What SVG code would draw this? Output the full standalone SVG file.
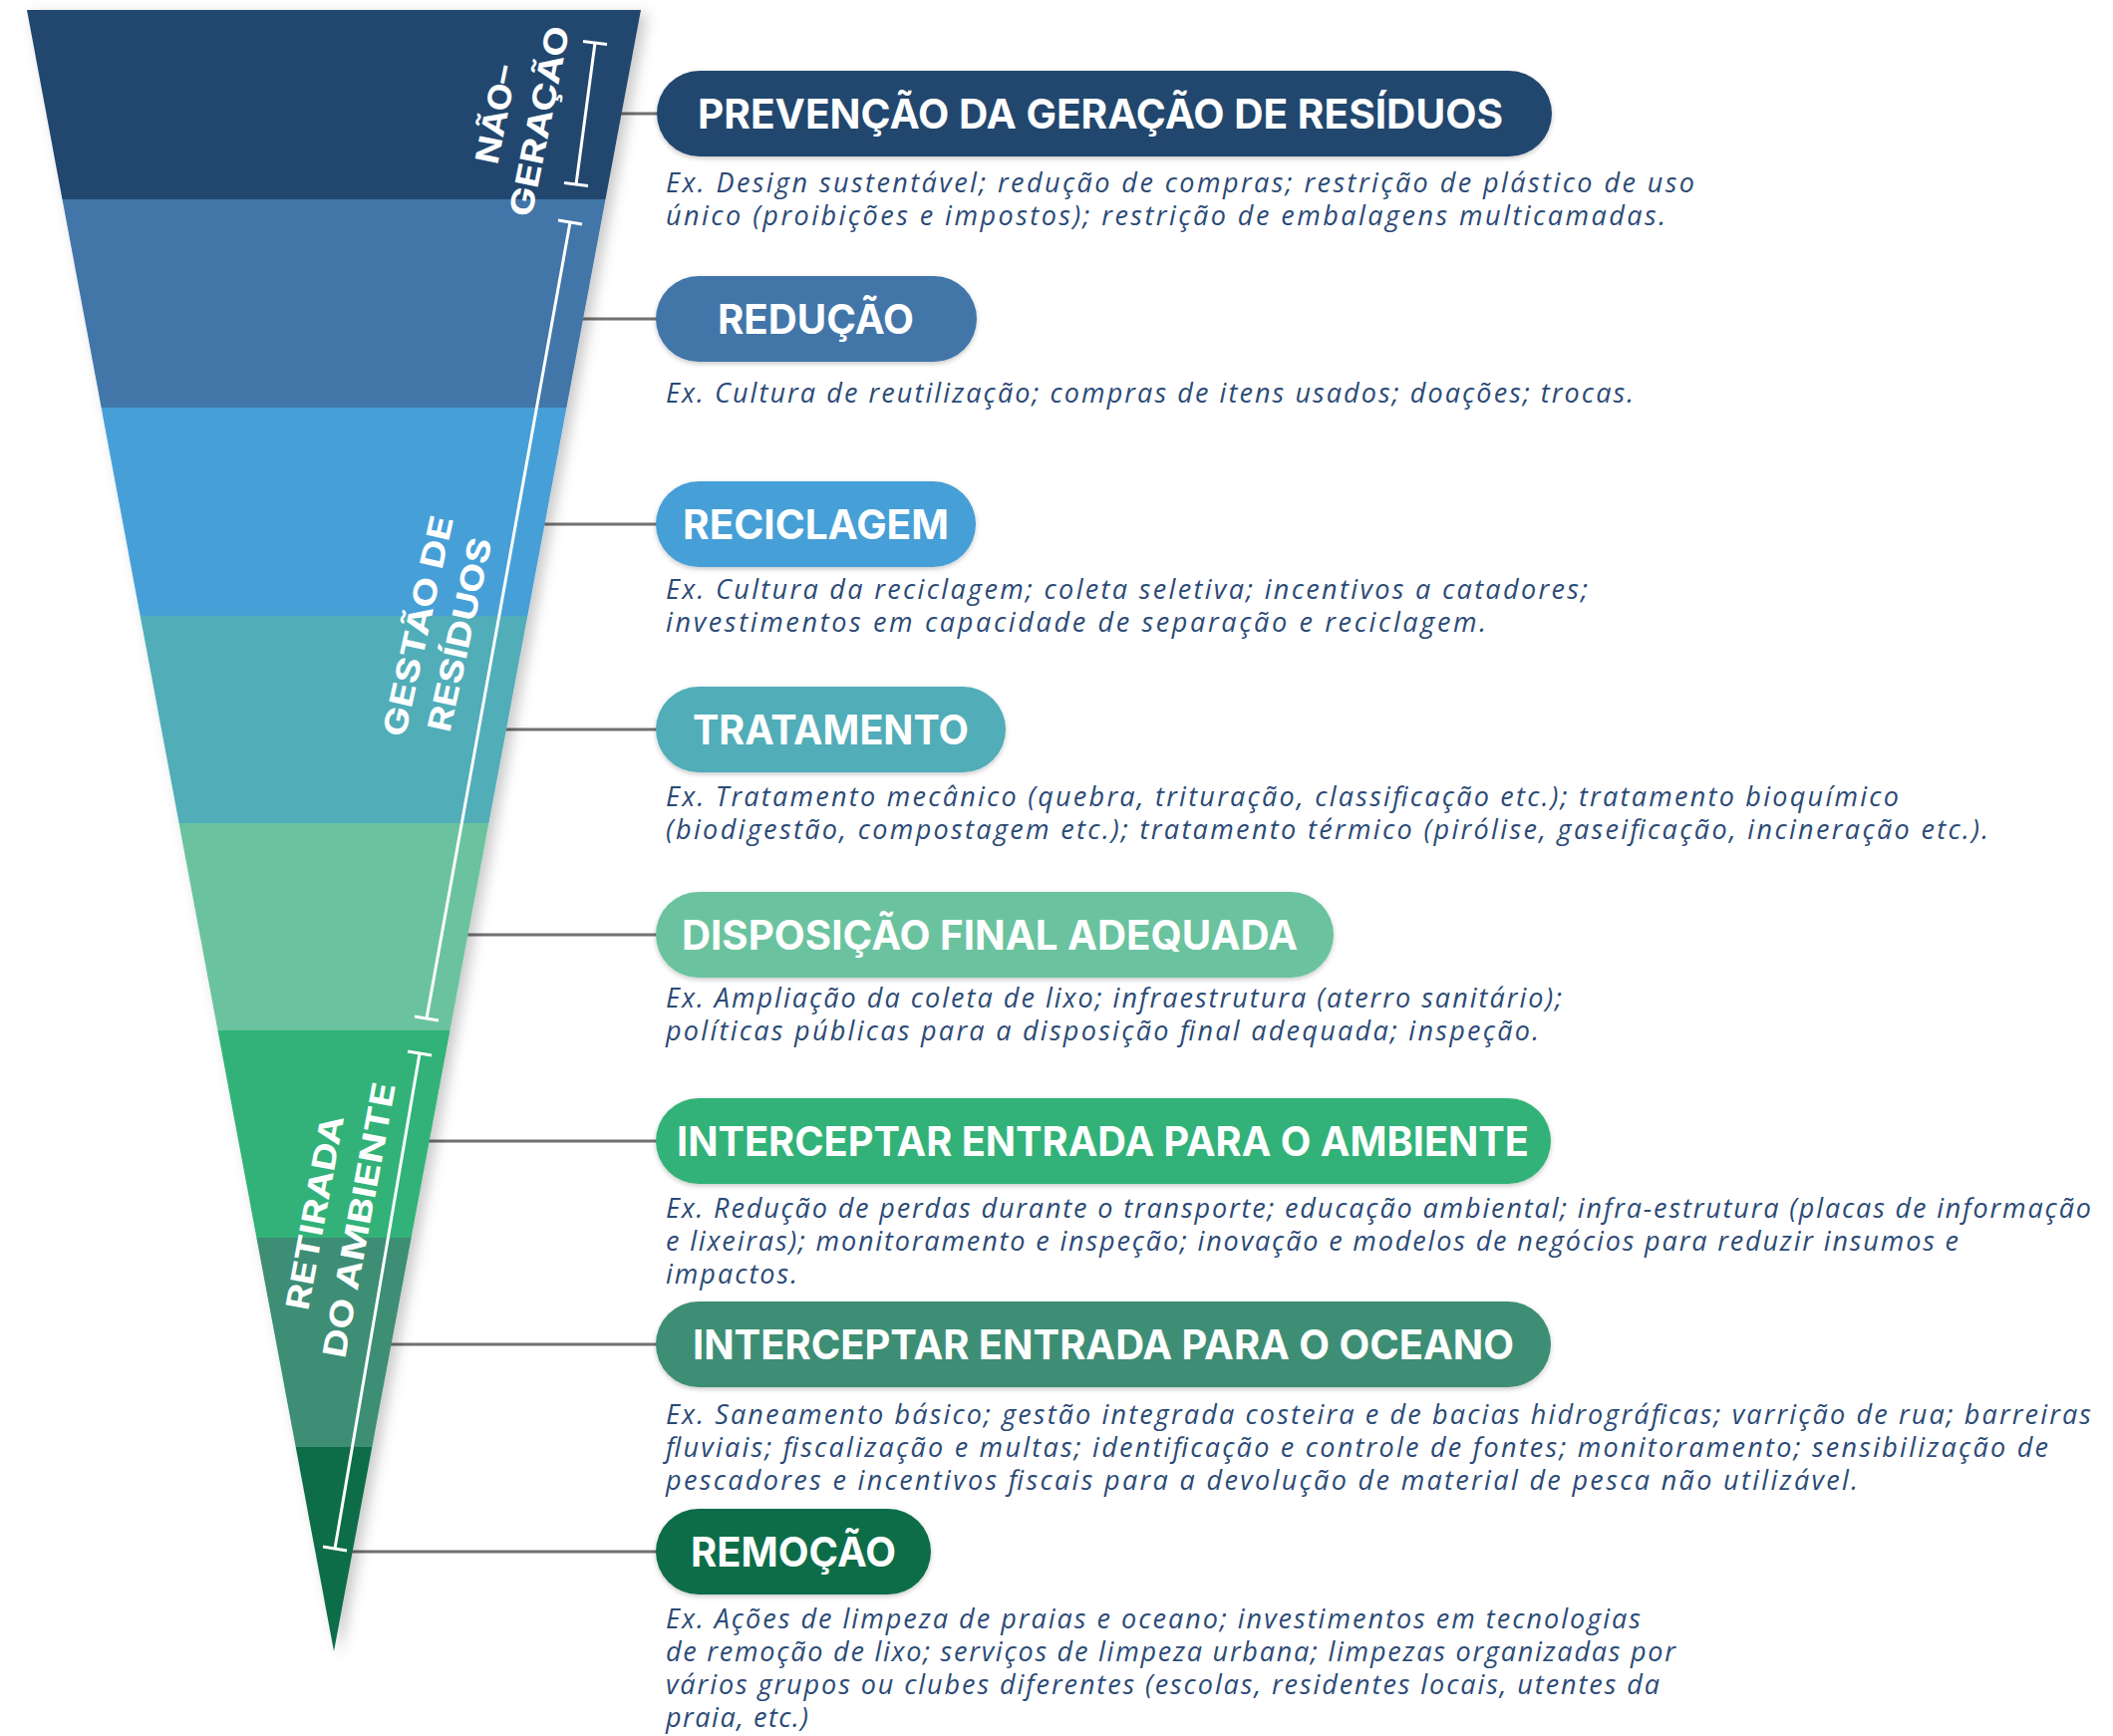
<svg xmlns="http://www.w3.org/2000/svg" width="2120" height="1742" viewBox="0 0 2120 1742">
<defs>
<filter id="fshadow" x="-20%" y="-5%" width="140%" height="110%">
<feDropShadow dx="6" dy="4" stdDeviation="7" flood-color="#000" flood-opacity="0.22"/>
</filter>
<filter id="pshadow" x="-5%" y="-20%" width="110%" height="150%">
<feDropShadow dx="0" dy="2" stdDeviation="2.5" flood-color="#000" flood-opacity="0.22"/>
</filter>
<style>
.title{font-family:Inter,"Liberation Sans",sans-serif;font-weight:700;font-size:41px;fill:#fff;text-anchor:middle}
.desc{font-family:"Open Sans","Liberation Sans",sans-serif;font-style:italic;font-size:27px;fill:#2b4a76}
.lbl{font-family:Inter,"Liberation Sans",sans-serif;font-weight:700;font-size:32px;fill:#fff}
.conn{stroke:#707070;stroke-width:3;fill:none}
.brk{stroke:#fff;stroke-width:3;fill:none;stroke-linecap:butt}
.pill{filter:url(#pshadow)}
</style>
</defs>
<rect width="2120" height="1742" fill="#fff"/>

<g id="connectors">
<line class="conn" x1="618" y1="114" x2="662" y2="114"/>
<line class="conn" x1="580" y1="320" x2="662" y2="320"/>
<line class="conn" x1="541" y1="526" x2="662" y2="526"/>
<line class="conn" x1="503" y1="732" x2="662" y2="732"/>
<line class="conn" x1="464" y1="938" x2="662" y2="938"/>
<line class="conn" x1="426" y1="1145" x2="662" y2="1145"/>
<line class="conn" x1="388" y1="1349" x2="662" y2="1349"/>
<line class="conn" x1="349" y1="1557" x2="662" y2="1557"/>
</g>

<g id="funnel">
<g filter="url(#fshadow)">
<polygon points="27,10 643,10 607.5,200 62.5,200" fill="#23466e"/>
<polygon points="62.5,200 607.5,200 568.4,409 101.6,409" fill="#4276a8"/>
<polygon points="101.6,409 568.4,409 529.3,618 140.7,618" fill="#479fd7"/>
<polygon points="140.7,618 529.3,618 490.4,826 179.6,826" fill="#51adb8"/>
<polygon points="179.6,826 490.4,826 451.5,1034 218.5,1034" fill="#6ac39e"/>
<polygon points="218.5,1034 451.5,1034 412.6,1242 257.4,1242" fill="#33b278"/>
<polygon points="257.4,1242 412.6,1242 373.3,1452 296.7,1452" fill="#3c8e74"/>
<polygon points="296.7,1452 373.3,1452 335,1657" fill="#116d4a"/>
</g>
</g>

<g id="group-nao-geracao">
<line class="brk" x1="597" y1="43" x2="578" y2="185"/>
<line class="brk" x1="585" y1="41.4" x2="609" y2="44.6"/>
<line class="brk" x1="566" y1="183.4" x2="590" y2="186.6"/>
<text class="lbl" transform="translate(499,166) rotate(-78.5)" textLength="100" lengthAdjust="spacingAndGlyphs">NÃO–</text>
<text class="lbl" transform="translate(533,219) rotate(-78.5)" textLength="194" lengthAdjust="spacingAndGlyphs">GERAÇÃO</text>
</g>

<g id="group-gestao">
<line class="brk" x1="572" y1="223" x2="428" y2="1022"/>
<line class="brk" x1="560" y1="221" x2="584" y2="225"/>
<line class="brk" x1="416" y1="1020" x2="440" y2="1024"/>
<text class="lbl" transform="translate(406,741) rotate(-77.5)" textLength="226" lengthAdjust="spacingAndGlyphs">GESTÃO DE</text>
<text class="lbl" transform="translate(451,736) rotate(-77.5)" textLength="198" lengthAdjust="spacingAndGlyphs">RESÍDUOS</text>
</g>

<g id="group-retirada">
<line class="brk" x1="421" y1="1057" x2="336" y2="1554"/>
<line class="brk" x1="409" y1="1055" x2="433" y2="1059"/>
<line class="brk" x1="324" y1="1552" x2="348" y2="1556"/>
<text class="lbl" transform="translate(309,1316) rotate(-79.5)" textLength="198" lengthAdjust="spacingAndGlyphs">RETIRADA</text>
<text class="lbl" transform="translate(346,1364) rotate(-79.5)" textLength="280" lengthAdjust="spacingAndGlyphs">DO AMBIENTE</text>
</g>

<g id="node-prevencao">
<rect class="pill" x="659" y="71" width="898" height="86" rx="43" fill="#23466e"/>
<text class="title" x="1104" y="129" textLength="808" lengthAdjust="spacingAndGlyphs">PREVENÇÃO DA GERAÇÃO DE RESÍDUOS</text>
<text class="desc" x="668" y="193" textLength="1032">Ex. Design sustentável; redução de compras; restrição de plástico de uso</text>
<text class="desc" x="668" y="226" textLength="1003">único (proibições e impostos); restrição de embalagens multicamadas.</text>
</g>

<g id="node-reducao">
<rect class="pill" x="658" y="277" width="322" height="86" rx="43" fill="#4276a8"/>
<text class="title" x="818.5" y="335" textLength="197" lengthAdjust="spacingAndGlyphs">REDUÇÃO</text>
<text class="desc" x="668" y="404" textLength="971">Ex. Cultura de reutilização; compras de itens usados; doações; trocas.</text>
</g>

<g id="node-reciclagem">
<rect class="pill" x="658" y="483" width="321" height="86" rx="43" fill="#479fd7"/>
<text class="title" x="818.5" y="541" textLength="267" lengthAdjust="spacingAndGlyphs">RECICLAGEM</text>
<text class="desc" x="668" y="601" textLength="925">Ex. Cultura da reciclagem; coleta seletiva; incentivos a catadores;</text>
<text class="desc" x="668" y="634" textLength="823">investimentos em capacidade de separação e reciclagem.</text>
</g>

<g id="node-tratamento">
<rect class="pill" x="658" y="689" width="351" height="86" rx="43" fill="#51adb8"/>
<text class="title" x="833.5" y="747" textLength="277" lengthAdjust="spacingAndGlyphs">TRATAMENTO</text>
<text class="desc" x="668" y="809" textLength="1237">Ex. Tratamento mecânico (quebra, trituração, classificação etc.); tratamento bioquímico</text>
<text class="desc" x="668" y="842" textLength="1327">(biodigestão, compostagem etc.); tratamento térmico (pirólise, gaseificação, incineração etc.).</text>
</g>

<g id="node-disposicao">
<rect class="pill" x="658" y="895" width="680" height="86" rx="43" fill="#6ac39e"/>
<text class="title" x="993" y="953" textLength="618" lengthAdjust="spacingAndGlyphs">DISPOSIÇÃO FINAL ADEQUADA</text>
<text class="desc" x="668" y="1011" textLength="899">Ex. Ampliação da coleta de lixo; infraestrutura (aterro sanitário);</text>
<text class="desc" x="668" y="1044" textLength="876">políticas públicas para a disposição final adequada; inspeção.</text>
</g>

<g id="node-ambiente">
<rect class="pill" x="658" y="1102" width="898" height="86" rx="43" fill="#33b278"/>
<text class="title" x="1106.5" y="1160" textLength="855" lengthAdjust="spacingAndGlyphs">INTERCEPTAR ENTRADA PARA O AMBIENTE</text>
<text class="desc" x="668" y="1222" textLength="1430">Ex. Redução de perdas durante o transporte; educação ambiental; infra-estrutura (placas de informação</text>
<text class="desc" x="668" y="1255" textLength="1297">e lixeiras); monitoramento e inspeção; inovação e modelos de negócios para reduzir insumos e</text>
<text class="desc" x="668" y="1288" textLength="132">impactos.</text>
</g>

<g id="node-oceano">
<rect class="pill" x="658" y="1306" width="898" height="86" rx="43" fill="#3c8e74"/>
<text class="title" x="1107" y="1364" textLength="824" lengthAdjust="spacingAndGlyphs">INTERCEPTAR ENTRADA PARA O OCEANO</text>
<text class="desc" x="668" y="1429" textLength="1430">Ex. Saneamento básico; gestão integrada costeira e de bacias hidrográficas; varrição de rua; barreiras</text>
<text class="desc" x="668" y="1462" textLength="1387">fluviais; fiscalização e multas; identificação e controle de fontes; monitoramento; sensibilização de</text>
<text class="desc" x="668" y="1495" textLength="1196">pescadores e incentivos fiscais para a devolução de material de pesca não utilizável.</text>
</g>

<g id="node-remocao">
<rect class="pill" x="658" y="1514" width="276" height="86" rx="43" fill="#116d4a"/>
<text class="title" x="796" y="1572" textLength="206" lengthAdjust="spacingAndGlyphs">REMOÇÃO</text>
<text class="desc" x="668" y="1634" textLength="978">Ex. Ações de limpeza de praias e oceano; investimentos em tecnologias</text>
<text class="desc" x="668" y="1667" textLength="1013">de remoção de lixo; serviços de limpeza urbana; limpezas organizadas por</text>
<text class="desc" x="668" y="1700" textLength="997">vários grupos ou clubes diferentes (escolas, residentes locais, utentes da</text>
<text class="desc" x="668" y="1733" textLength="143">praia, etc.)</text>
</g>
</svg>
